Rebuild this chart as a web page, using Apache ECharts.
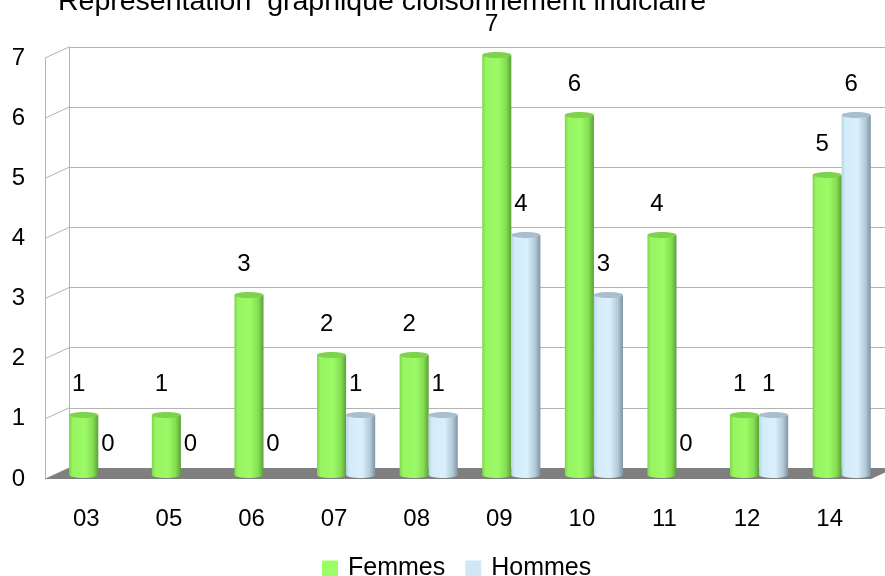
<!DOCTYPE html>
<html>
<head>
<meta charset="utf-8">
<script src="https://cdn.jsdelivr.net/npm/echarts@6/dist/echarts.min.js"></script>
<style>html,body{margin:0;padding:0;background:#fff}#c{width:885px;height:576px}</style>
</head>
<body>
<div id="c"></div>
<script>
const titleText = 'Représentation  graphique cloisonnement indiciaire';
const categories = ['03', '05', '06', '07', '08', '09', '10', '11', '12', '14'];
const femmes = [1, 1, 3, 2, 2, 7, 6, 4, 1, 5];
const hommes = [0, 0, 0, 1, 1, 4, 3, 0, 1, 6];
const yTicks = [0, 1, 2, 3, 4, 5, 6, 7];
const seriesNames = ['Femmes', 'Hommes'];

const FONT = '"Liberation Sans", Arial, sans-serif';
const DX = 24, DY = -11;
const greenStops = [
  {offset: 0, color: '#7ed64c'}, {offset: 0.12, color: '#98f562'},
  {offset: 0.55, color: '#9cfa66'}, {offset: 0.82, color: '#84de52'},
  {offset: 1, color: '#5c9f38'}
];
const blueStops = [
  {offset: 0, color: '#b7d3e3'}, {offset: 0.12, color: '#d3ecf9'},
  {offset: 0.55, color: '#d9f0fc'}, {offset: 0.82, color: '#b2cad9'},
  {offset: 1, color: '#8093a2'}
];

function cylinder(side, stops, capColor) {
  return function (params, api) {
    const cat = api.value(0), v = api.value(1);
    const c = api.coord([cat, v]);
    const b = api.coord([cat, 0]);
    const band = api.size([1, 0])[0];
    const w = band * 0.352;
    const x0 = side < 0 ? c[0] - w : c[0];
    const children = [];
    if (v > 0) {
      const grad = new echarts.graphic.LinearGradient(0, 0, 1, 0, stops);
      children.push({type: 'rect', shape: {x: x0, y: c[1], width: w, height: b[1] - c[1]}, style: {fill: grad}});
      children.push({type: 'ellipse', shape: {cx: x0 + w / 2, cy: b[1], rx: w / 2, ry: 3}, style: {fill: grad}});
      children.push({type: 'ellipse', shape: {cx: x0 + w / 2, cy: c[1], rx: w / 2, ry: 3}, style: {fill: capColor}});
    }
    children.push({type: 'text', style: {text: String(v), x: x0 + w / 2 - 5, y: c[1] - 31,
      fill: '#000', fontSize: 24, fontFamily: FONT, align: 'center', verticalAlign: 'middle',
      textAlign: 'center', textVerticalAlign: 'middle'}});
    return {type: 'group', children: children};
  };
}

const chart = echarts.init(document.getElementById('c'));
chart.setOption({
  animation: false,
  backgroundColor: '#fff',
  textStyle: {fontFamily: FONT},
  title: {text: titleText, left: 53, top: -17,
    textStyle: {fontSize: 28.5, fontWeight: 'normal', color: '#000', fontFamily: FONT}},
  legend: {
    data: [{name: seriesNames[0], itemStyle: {color: '#99ff66'}}, {name: seriesNames[1], itemStyle: {color: '#cfe7f5'}}],
    top: 551, left: 317, itemWidth: 16, itemHeight: 16, itemGap: 20, icon: 'rect',
    textStyle: {fontSize: 25, color: '#000', fontFamily: FONT, padding: [0, 0, 0, 5]}
  },
  grid: [
    {left: 69, top: 47, right: -30, height: 421},
    {left: 45, top: 58, right: 14, bottom: 97},
    {left: 57, top: 55, right: 2, bottom: 101}
  ],
  xAxis: [
    {gridIndex: 0, type: 'category', data: categories, show: false},
    {gridIndex: 1, type: 'category', data: categories, axisLine: {show: false}, axisTick: {show: false},
      axisLabel: {fontSize: 24, color: '#000', margin: 28, fontFamily: FONT}},
    {gridIndex: 2, type: 'category', data: categories, show: false}
  ],
  yAxis: [
    {gridIndex: 0, type: 'value', min: 0, max: 7, interval: 1, axisLabel: {show: false},
      axisLine: {show: true, lineStyle: {color: '#b3b3b3'}}, axisTick: {show: false},
      splitLine: {lineStyle: {color: '#b3b3b3'}}},
    {gridIndex: 1, type: 'value', min: 0, max: 7, interval: 1,
      axisLabel: {fontSize: 24, color: '#000', margin: 20, fontFamily: FONT},
      axisLine: {show: true, lineStyle: {color: '#b3b3b3'}}, axisTick: {show: false}, splitLine: {show: false}},
    {gridIndex: 2, type: 'value', min: 0, max: 7, show: false, splitLine: {show: false}}
  ],
  series: [
    {type: 'custom', xAxisIndex: 1, yAxisIndex: 1, silent: true, z: 1,
      data: yTicks.map(v => [0, v]),
      renderItem: function (params, api) {
        const cs = params.coordSys;
        const y = api.coord([0, api.value(1)])[1];
        return {type: 'line', shape: {x1: cs.x, y1: y, x2: cs.x + DX, y2: y + DY},
          style: {stroke: '#b3b3b3', lineWidth: 1}};
      }},
    {type: 'custom', xAxisIndex: 1, yAxisIndex: 1, silent: true, z: 2,
      data: [[0, 0]],
      renderItem: function (params, api) {
        const cs = params.coordSys;
        const y = api.coord([0, 0])[1];
        return {type: 'polygon', shape: {points: [[cs.x, y], [cs.x + cs.width, y],
          [cs.x + cs.width + DX, y + DY], [cs.x + DX, y + DY]]}, style: {fill: '#7f7f7f'}};
      }},
    {name: seriesNames[0], type: 'custom', xAxisIndex: 2, yAxisIndex: 2, z: 5,
      itemStyle: {color: '#99ff66'},
      data: femmes.map((v, i) => [i, v]), renderItem: cylinder(-1, greenStops, '#7fd24e')},
    {name: seriesNames[1], type: 'custom', xAxisIndex: 2, yAxisIndex: 2, z: 5,
      itemStyle: {color: '#cfe7f5'},
      data: hommes.map((v, i) => [i, v]), renderItem: cylinder(1, blueStops, '#a9bfcd')}
  ]
});
</script>
</body>
</html>
